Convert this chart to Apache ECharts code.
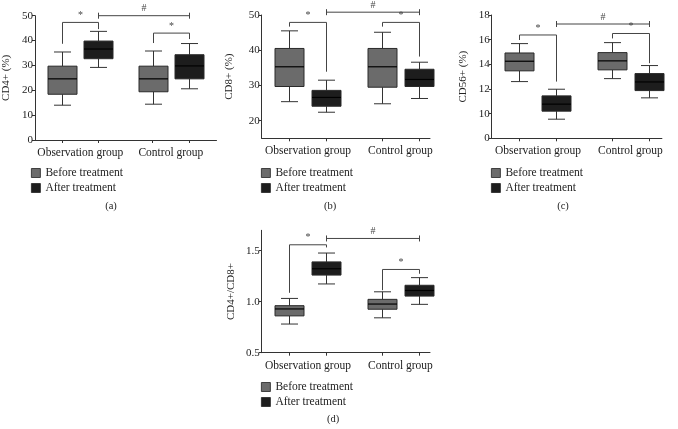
<!DOCTYPE html>
<html>
<head>
<meta charset="utf-8">
<script src="https://cdn.jsdelivr.net/npm/echarts@6/dist/echarts.min.js"></script>
<style>
html,body{margin:0;padding:0;background:#fff;}
#chart{width:678px;height:429px;}
</style>
</head>
<body>
<div id="chart"></div>
<script>
// ---- data: [min, Q1, median, Q3, max] for [Observation group, Control group]
const categories = ['Observation group', 'Control group'];
const seriesNames = ['Before treatment', 'After treatment'];
const panelLabels = ['(a)', '(b)', '(c)', '(d)'];
const yNames = ['CD4+ (%)', 'CD8+ (%)', 'CD56+ (%)', 'CD4+/CD8+'];

const cd4Before = [[14.0, 18.4, 24.6, 29.7, 35.4], [14.4, 19.4, 24.6, 29.7, 35.8]];
const cd4After  = [[29.2, 32.7, 36.6, 39.8, 43.7], [20.6, 24.6, 29.8, 34.3, 38.8]];
const cd8Before = [[25.4, 29.7, 35.3, 40.5, 45.5], [24.8, 29.5, 35.3, 40.5, 45.1]];
const cd8After  = [[22.4, 24.1, 26.6, 28.6, 31.5], [26.3, 29.7, 31.7, 34.6, 36.6]];
const cd56Before = [[12.6, 13.47, 14.25, 14.92, 15.68], [12.84, 13.55, 14.28, 14.95, 15.76]];
const cd56After  = [[9.55, 10.2, 10.77, 11.44, 11.98], [11.28, 11.87, 12.57, 13.25, 13.9]];
const ratioBefore = [[0.781, 0.861, 0.929, 0.961, 1.032], [0.842, 0.926, 0.977, 1.023, 1.097]];
const ratioAfter  = [[1.174, 1.261, 1.323, 1.39, 1.477], [0.974, 1.055, 1.11, 1.161, 1.236]];

// significance brackets: [bar level, left leg end, right leg end] per group; # bar level
const cd4Star = [[47.3, 38.7, 44.6], [43.0, 39.0, 40.6]];
const cd4Hash = 50.0;
const cd8Star = [[47.9, 46.7, 33.9], [47.9, 46.7, 38.2]];
const cd8Hash = 50.8;
const cd56Star = [[16.38, 15.97, 12.6], [16.5, 16.1, 14.09]];
const cd56Hash = 17.27;
const ratioStar = [[1.558, 1.087, 1.532], [1.316, 1.113, 1.274]];
const ratioHash = 1.62;

// y axis ticks
const cd4Ticks = [0, 10, 20, 30, 40, 50];
const cd8Ticks = [20, 30, 40, 50];
const cd56Ticks = [8, 10, 12, 14, 16, 18];
const cd56TickLabels = ['0', '10', '12', '14', '16', '18'];
const ratioTicks = [0.5, 1.0, 1.5];

// ---- layout
const FONT = 'Liberation Serif';
const colors = ['#6b6b6b', '#1d1d1d'];
const panels = [
  {before: cd4Before, after: cd4After, star: cd4Star, hash: cd4Hash, ticks: cd4Ticks,
   yMin: 0, yMax: 50, grid: {left: 31, top: 15.7, width: 185.5, height: 124.3}, xMax: 5.26,
   nameGap: 19, legendLeft: 31, legendTop: 167, title: [111, 201]},
  {before: cd8Before, after: cd8After, star: cd8Star, hash: cd8Hash, ticks: cd8Ticks,
   yMin: 15, yMax: 50, grid: {left: 261.7, top: 15, width: 168.3, height: 123.3}, xMax: 4.8,
   nameGap: 23, legendLeft: 261, legendTop: 167, title: [330, 201]},
  {before: cd56Before, after: cd56After, star: cd56Star, hash: cd56Hash, ticks: cd56Ticks, tickLabels: cd56TickLabels,
   yMin: 8, yMax: 18, grid: {left: 491.7, top: 15, width: 170.2, height: 123.3}, xMax: 4.85,
   nameGap: 19, legendLeft: 491, legendTop: 167, title: [563, 201]},
  {before: ratioBefore, after: ratioAfter, star: ratioStar, hash: ratioHash, ticks: ratioTicks,
   yMin: 0.5, yMax: 1.7, grid: {left: 261.7, top: 230.3, width: 168.3, height: 122.4}, xMax: 4.8,
   nameGap: 21, legendLeft: 261, legendTop: 381, title: [333, 414]}
];
const X_MIN = 0.25;
const xPos = (g, t) => g * 2.5 + t + 1;
const labelPos = [1.5, 4];

const grids = [], xAxes = [], yAxes = [], series = [], legends = [], titles = [];
const lineColor = '#333';
const textColor = '#222';

panels.forEach((p, i) => {
  grids.push(Object.assign({containLabel: false}, p.grid));
  xAxes.push({
    type: 'value', gridIndex: i, min: X_MIN, max: p.xMax,
    splitLine: {show: false},
    axisLine: {show: true, lineStyle: {color: lineColor, width: 1}},
    axisTick: {show: true, length: 3, inside: false, customValues: [xPos(0,0), xPos(0,1), xPos(1,0), xPos(1,1)], lineStyle: {color: lineColor}},
    axisLabel: {show: true, customValues: labelPos, margin: 7, fontFamily: FONT, fontSize: 11.5, color: textColor,
      formatter: v => categories[labelPos.indexOf(v)] || ''}
  });
  yAxes.push({
    type: 'value', gridIndex: i, min: p.yMin, max: p.yMax,
    name: yNames[i], nameLocation: 'middle', nameGap: p.nameGap + 4, nameRotate: 90,
    nameTextStyle: {fontFamily: FONT, fontSize: 11, color: textColor},
    splitLine: {show: false},
    axisLine: {show: true, lineStyle: {color: lineColor, width: 1}},
    axisTick: {show: true, length: 3, customValues: p.ticks, lineStyle: {color: lineColor}},
    axisLabel: {show: true, customValues: p.ticks, margin: 2, fontFamily: FONT, fontSize: 11, color: textColor,
      formatter: v => {
        if (p.tickLabels) return p.tickLabels[p.ticks.indexOf(v)];
        return (p.yMax < 5) ? v.toFixed(1) : String(v);
      }}
  });
  [p.before, p.after].forEach((arr, t) => {
    series.push({
      type: 'custom', name: seriesNames[t], xAxisIndex: i, yAxisIndex: i,
      itemStyle: {color: colors[t], borderColor: '#2a2a2a', borderWidth: 1},
      encode: {x: 0, y: [1, 2, 3, 4, 5]},
      data: arr.map((d, g) => [xPos(g, t)].concat(d)),
      renderItem: function (params, api) {
        const x = api.value(0);
        const pMin = api.coord([x, api.value(1)]);
        const pQ1 = api.coord([x, api.value(2)]);
        const pMed = api.coord([x, api.value(3)]);
        const pQ3 = api.coord([x, api.value(4)]);
        const pMax = api.coord([x, api.value(5)]);
        const cx = Math.round(pMin[0]) + 0.5;
        const hw = 14.5, cw = 8.5;
        const ls = {stroke: '#333', lineWidth: 1};
        return {type: 'group', children: [
          {type: 'line', shape: {x1: cx, y1: pMax[1], x2: cx, y2: pQ3[1]}, style: ls},
          {type: 'line', shape: {x1: cx, y1: pQ1[1], x2: cx, y2: pMin[1]}, style: ls},
          {type: 'line', shape: {x1: cx - cw, y1: pMax[1], x2: cx + cw, y2: pMax[1]}, style: ls},
          {type: 'line', shape: {x1: cx - cw, y1: pMin[1], x2: cx + cw, y2: pMin[1]}, style: ls},
          {type: 'rect', shape: {x: cx - hw, y: pQ3[1], width: hw * 2, height: pQ1[1] - pQ3[1]},
           style: {fill: colors[t], stroke: '#2a2a2a', lineWidth: 1}},
          {type: 'line', shape: {x1: cx - hw, y1: pMed[1], x2: cx + hw, y2: pMed[1]}, style: {stroke: '#000', lineWidth: 1.2}}
        ]};
      }
    });
  });
  // brackets
  const bdata = p.star.map((s, g) => [xPos(g, 0), xPos(g, 1), s[0], s[1], s[2], 0]);
  bdata.push([xPos(0, 1), xPos(1, 1), p.hash, p.hash, p.hash, 1]);
  series.push({
    type: 'custom', name: 'sig' + i, xAxisIndex: i, yAxisIndex: i, silent: true,
    clip: false, z: 5,
    data: bdata,
    renderItem: function (params, api) {
      const x1 = api.value(0), x2 = api.value(1), h = api.value(2);
      const kind = api.value(5);
      const a = api.coord([x1, h]), b = api.coord([x2, h]);
      const l = api.coord([x1, api.value(3)]), r = api.coord([x2, api.value(4)]);
      const ls = {stroke: '#444', lineWidth: 1};
      const ax = Math.round(a[0]) + 0.5, bx = Math.round(b[0]) + 0.5;
      const children = [{type: 'line', shape: {x1: ax, y1: a[1], x2: bx, y2: b[1]}, style: ls}];
      if (kind === 0) {
        children.push({type: 'line', shape: {x1: ax, y1: a[1], x2: ax, y2: l[1]}, style: ls});
        children.push({type: 'line', shape: {x1: bx, y1: b[1], x2: bx, y2: r[1]}, style: ls});
      } else {
        children.push({type: 'line', shape: {x1: ax, y1: a[1] - 3, x2: ax, y2: a[1] + 3}, style: ls});
        children.push({type: 'line', shape: {x1: bx, y1: b[1] - 3, x2: bx, y2: b[1] + 3}, style: ls});
      }
      children.push({type: 'text', x: (ax + bx) / 2, y: a[1] - 2,
        style: {text: kind === 0 ? '*' : '#', fontFamily: FONT, fontSize: 10, fill: '#444',
                align: 'center', verticalAlign: 'bottom'}});
      return {type: 'group', children: children};
    }
  });
  legends.push({
    orient: 'vertical', left: p.legendLeft, top: p.legendTop, padding: 0,
    itemWidth: 9, itemHeight: 9, itemGap: 3,
    icon: 'rect', data: seriesNames, selectedMode: false,
    itemStyle: {borderColor: '#222', borderWidth: 0.8},
    textStyle: {fontFamily: FONT, fontSize: 11.5, color: textColor}
  });
  titles.push({
    text: panelLabels[i], left: p.title[0], top: p.title[1], textAlign: 'center', padding: 0,
    textStyle: {fontFamily: FONT, fontSize: 10.5, fontWeight: 'normal', color: textColor}
  });
});

const chart = echarts.init(document.getElementById('chart'), null, {renderer: 'canvas'});
chart.setOption({
  animation: false,
  backgroundColor: '#fff',
  title: titles,
  legend: legends,
  grid: grids,
  xAxis: xAxes,
  yAxis: yAxes,
  series: series
});
</script>
</body>
</html>
